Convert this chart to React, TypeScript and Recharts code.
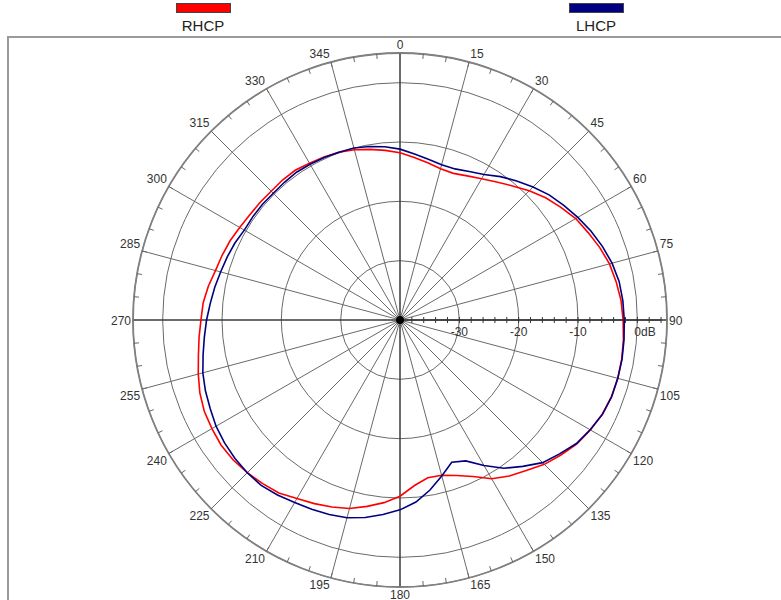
import React from 'react';
import {
  RadarChart,
  PolarGrid,
  PolarAngleAxis,
  PolarRadiusAxis,
  Radar,
  Legend,
} from 'recharts';

// bearing of each sample, degrees clockwise from the top
const angles = [
  0, 5, 10, 15, 20, 25, 30, 35, 40, 45, 50, 55,
  60, 65, 70, 75, 80, 85, 90, 95, 100, 105, 110, 115,
  120, 125, 130, 135, 140, 145, 150, 155, 160, 165, 170, 175,
  180, 185, 190, 195, 200, 205, 210, 215, 220, 225, 230, 235,
  240, 245, 250, 255, 260, 265, 270, 275, 280, 285, 290, 295,
  300, 305, 310, 315, 320, 325, 330, 335, 340, 345, 350, 355,
];

// gain in dB
const rhcp = [
  -11.8, -12.5, -13.1, -13.6, -13.7, -13.2, -12.5, -11.6, -10.5, -9.2, -7.95, -6.9,
  -5.8, -5.05, -4.2, -3.45, -3.0, -2.6, -2.4, -2.2, -2.05, -2.0, -2.1, -2.4,
  -2.95, -3.6, -4.6, -5.6, -6.9, -7.9, -9.1, -10.9, -12.1, -12.9, -13.0, -12.0,
  -10.3, -9.1, -8.1, -7.1, -6.45, -5.85, -5.25, -4.4, -4.0, -3.6, -3.3, -3.2,
  -3.4, -3.6, -4.1, -4.8, -5.5, -6.0, -6.45, -6.7, -7.2, -7.8, -8.1, -8.4,
  -8.8, -9.1, -9.2, -9.3, -9.2, -9.2, -9.5, -9.7, -9.9, -10.3, -10.8, -11.3,
];

const lhcp = [
  -11.2, -11.9, -12.5, -12.9, -12.9, -12.4, -11.7, -10.5, -9.4, -8.3, -7.2, -6.3,
  -5.4, -4.5, -3.7, -3.0, -2.5, -2.3, -2.2, -2.1, -2.0, -2.0, -2.05, -2.35,
  -3.0, -3.7, -4.9, -6.0, -7.8, -9.5, -11.7, -13.8, -14.5, -12.8, -10.9, -9.2,
  -8.0, -7.1, -6.2, -5.5, -5.1, -4.8, -4.5, -4.0, -3.6, -3.6, -3.7, -3.9,
  -4.2, -4.7, -5.1, -5.6, -6.3, -6.9, -7.4, -7.9, -8.3, -8.7, -9.0, -9.3,
  -9.7, -9.7, -9.7, -9.8, -9.7, -9.6, -9.7, -9.8, -9.9, -10.0, -10.3, -10.7,
];

const spokeBearings = [0, 15, 30, 45, 60, 75, 90, 105, 120, 135, 150, 165, 180, 195, 210, 225, 240, 255, 270, 285, 300, 315, 330, 345];
const ringLevels = [-30, -20, -10, 0, 5];
const radiusTicks = [-40, -38, -36, -34, -32, -30, -28, -26, -24, -22, -20, -18, -16, -14, -12, -10, -8, -6, -4, -2, 0, 2, 4];
const labeledLevels = [-30, -20, -10, 0];

const W = 781;
const H = 600;
const CX = 400;
const CY = 320;
const OUTER = 267;
const DB_MIN = -40;
const DB_MAX = 5;
const TICK = 5;
const FONT = '"Liberation Sans", Arial, sans-serif';

const data = angles.map((a, i) => ({ angle: a, rhcp: rhcp[i], lhcp: lhcp[i] }));

// recharts polar angles run counter-clockwise from 3 o'clock
const gridAngles = spokeBearings.map((b) => 90 - b);
const gridRadii = ringLevels.map((d) => ((d - DB_MIN) / (DB_MAX - DB_MIN)) * OUTER);

const seriesColors: { [k: string]: string } = { RHCP: '#ff0000', LHCP: '#000080' };
const legendCenters: { [k: string]: number } = { RHCP: 203, LHCP: 596 };

function AngleTick(props: any) {
  const { x, y, payload } = props;
  const v = Number(payload.value);
  if (v % 15 !== 0) return <g />;
  const rad = (payload.coordinate * Math.PI) / 180;
  const ux = Math.cos(rad);
  const uy = -Math.sin(rad);
  const ax = x + ux * (TICK + 1);
  const ay = y + uy * (TICK + 1);
  const anchor = ux > 0.05 ? 'start' : ux < -0.05 ? 'end' : 'middle';
  const dx = ux > 0.05 ? 1 : ux < -0.05 ? -1 : 0;
  const dy = uy < -0.1 ? -3 : uy > 0.1 ? 10.5 : 4.5;
  return (
    <text x={ax + dx} y={ay + dy} textAnchor={anchor} fontSize={12} fontFamily={FONT} fill="#333">
      {v}
    </text>
  );
}

function RadiusTick(props: any) {
  const { x, y, payload } = props;
  const v = Number(payload.value);
  if (v === DB_MIN) return <circle cx={x} cy={y} r={4} fill="#000" />;
  return (
    <g>
      <line x1={x} y1={y - 3} x2={x} y2={y + 3} stroke="#333" strokeWidth={1} />
      {labeledLevels.includes(v) && (
        <text
          x={v === 0 ? x - 3 : x}
          y={y + 16}
          textAnchor={v === 0 ? 'start' : 'middle'}
          fontSize={12}
          fontFamily={FONT}
          fill="#333"
        >
          {v === 0 ? '0dB' : v}
        </text>
      )}
    </g>
  );
}

function LegendContent(props: any) {
  const payload = props.payload || [];
  return (
    <div style={{ position: 'relative', width: W, height: 36 }}>
      {payload.map((entry: any) => (
        <div
          key={entry.value}
          style={{ position: 'absolute', left: legendCenters[entry.value] - 40, width: 80, top: 0, textAlign: 'center' }}
        >
          <div
            style={{
              width: 55,
              height: 10,
              margin: '3px auto 0',
              background: seriesColors[entry.value],
              border: '1px solid #444',
              boxSizing: 'border-box',
            }}
          />
          <div style={{ fontSize: 15, lineHeight: '17px', marginTop: 4, color: '#222', fontFamily: FONT }}>
            {entry.value}
          </div>
        </div>
      ))}
    </div>
  );
}

export default function App() {
  return (
    <div style={{ position: 'absolute', left: 0, top: 0, width: W, height: H, background: '#fff', overflow: 'hidden' }}>
      <div
        style={{
          position: 'absolute',
          left: 7,
          top: 36,
          width: 900,
          height: 700,
          borderTop: '2px solid #9a9a9a',
          borderLeft: '2px solid #9a9a9a',
        }}
      />
      <div style={{ position: 'absolute', left: 0, top: 0 }}>
        <RadarChart
          width={W}
          height={H}
          data={data}
          cx={CX}
          cy={CY}
          outerRadius={OUTER}
          startAngle={90}
          endAngle={-270}
          margin={{ top: 0, right: 0, bottom: 0, left: 0 }}
        >
          <PolarGrid
            gridType="circle"
            polarAngles={gridAngles}
            polarRadius={gridRadii}
            stroke="#6a6a6a"
            strokeWidth={1}
          />
          <PolarGrid gridType="circle" polarAngles={[90, -90, 0, 180]} polarRadius={[0]} stroke="#222" />
          <PolarAngleAxis
            dataKey="angle"
            orientation="inner"
            tickSize={TICK}
            tick={<AngleTick />}
            tickLine={{ stroke: '#666' }}
            axisLineType="circle"
            axisLine={{ stroke: '#808080', strokeWidth: 1.8 }}
          />
          <PolarRadiusAxis
            angle={0}
            type="number"
            domain={[DB_MIN, DB_MAX]}
            ticks={radiusTicks as any}
            tick={<RadiusTick />}
            tickLine={false}
            axisLine={{ stroke: '#222' }}
          />
          <Radar
            name="RHCP"
            dataKey="rhcp"
            stroke="#ff0000"
            strokeWidth={1.6}
            fill="none"
            fillOpacity={0}
            dot={false}
            isAnimationActive={false}
          />
          <Radar
            name="LHCP"
            dataKey="lhcp"
            stroke="#000080"
            strokeWidth={1.6}
            fill="none"
            fillOpacity={0}
            dot={false}
            isAnimationActive={false}
          />
          <Legend
            verticalAlign="middle"
            align="center"
            layout="horizontal"
            content={<LegendContent />}
            wrapperStyle={{ position: 'absolute', top: 0, left: 0, width: W }}
          />
        </RadarChart>
      </div>
    </div>
  );
}
